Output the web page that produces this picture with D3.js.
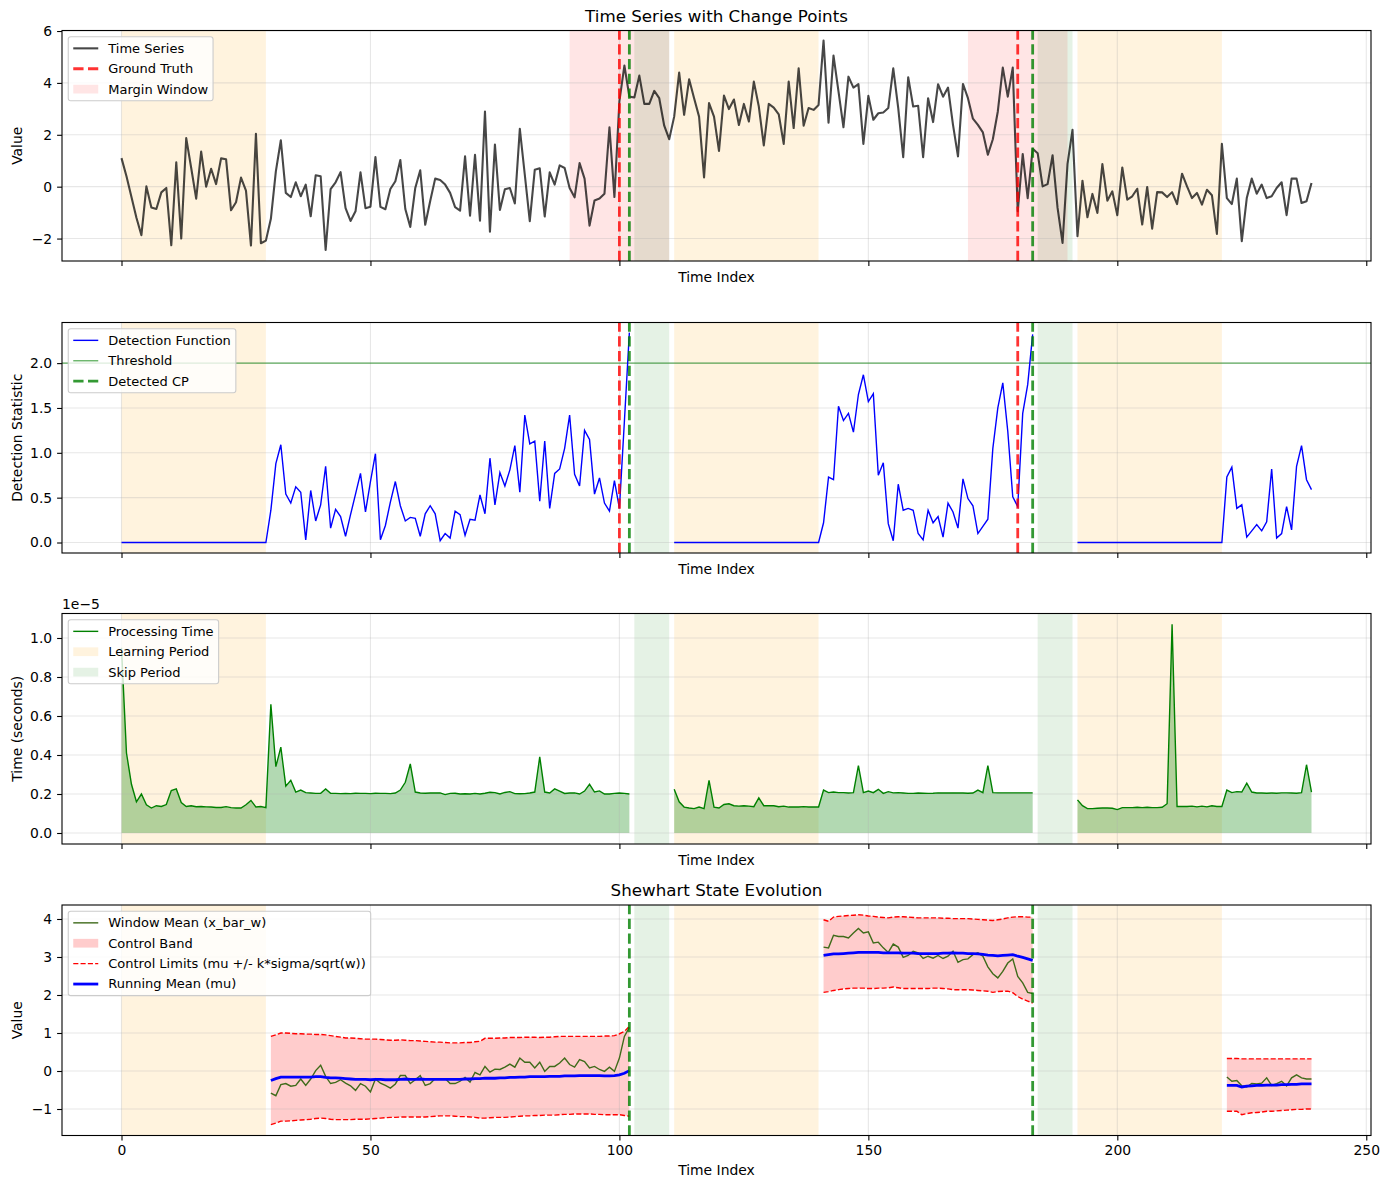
<!DOCTYPE html>
<html>
<head>
<meta charset="utf-8">
<script src="https://cdn.jsdelivr.net/npm/d3@7"></script>
<style>
  body { margin: 0; background: #fff; }
  text { font-family: "DejaVu Sans", sans-serif; }
</style>
</head>
<body>
<div id="chart"></div>
<script>
// ---- data ----
const timeSeries = [
  1.1, 0.4, -0.4, -1.2, -1.87, 0.01, -0.8, -0.86, -0.22, -0.05,
  -2.26, 0.94, -2.0, 1.87, 0.72, -0.46, 1.35, 0.0, 0.69, 0.1,
  1.09, 1.06, -0.91, -0.6, 0.35, -0.15, -2.27, 2.04, -2.18, -2.08,
  -1.24, 0.59, 1.79, -0.24, -0.4, 0.17, -0.37, 0.08, -1.14, 0.44,
  0.4, -2.44, -0.09, 0.17, 0.56, -0.83, -1.32, -0.95, 0.55, -0.83,
  -0.77, 1.14, -0.78, -0.87, -0.09, 0.21, 1.03, -0.86, -1.55, -0.05,
  0.63, -1.47, -0.55, 0.31, 0.26, 0.08, -0.24, -0.79, -0.92, 1.17,
  -1.12, 1.23, -1.31, 2.9, -1.74, 1.62, -0.9, -0.1, -0.05, -0.65,
  2.23, 0.46, -1.33, 0.65, 0.71, -1.15, 0.55, 0.08, 0.82, 0.72,
  -0.05, -0.41, 0.91, 0.31, -1.5, -0.53, -0.46, -0.27, 2.29, -0.4,
  3.3, 4.67, 3.47, 3.44, 4.28, 3.19, 3.19, 3.69, 3.41, 2.35,
  1.83, 2.7, 4.4, 2.77, 4.14, 3.41, 2.7, 0.36, 3.22, 2.7,
  1.38, 3.51, 2.99, 3.36, 2.38, 3.19, 2.51, 4.05, 3.09, 1.59,
  3.19, 3.05, 2.79, 1.65, 4.05, 2.26, 4.56, 2.35, 3.03, 2.96,
  3.15, 5.63, 2.47, 5.05, 3.67, 2.29, 4.24, 3.82, 3.95, 1.65,
  3.5, 2.58, 2.83, 2.86, 3.03, 4.56, 3.03, 1.14, 4.22, 3.09,
  3.12, 1.14, 3.41, 2.49, 3.95, 3.47, 3.82, 2.38, 1.17, 3.96,
  3.41, 2.62, 2.38, 2.09, 1.23, 1.83, 2.9, 4.59, 3.47, 4.59,
  -0.95, 1.26, -0.44, 1.46, 1.29, 0.01, 0.1, 1.21, -0.82, -2.17,
  0.88, 2.19, -1.91, 0.23, -1.18, -0.28, -1.01, 0.87, -0.54, -0.18,
  -1.1, 0.74, -0.5, -0.37, -0.08, -1.46, -0.01, -1.62, -0.21, -0.22,
  -0.4, -0.21, -0.67, 0.5, 0.01, -0.44, -0.24, -0.69, -0.12, -0.33,
  -1.82, 1.65, -0.44, -0.67, 0.31, -2.1, -0.44, 0.31, -0.27, 0.08,
  -0.44, -0.37, -0.05, 0.17, -1.1, 0.31, 0.31, -0.63, -0.56, 0.14
];

const learningSpans = [[0, 29], [111, 140], [192, 221]];
const skipSpans = [[103, 110], [184, 191]];
const marginSpans = [[90, 110], [170, 190]];
const groundTruth = [100, 180];
const detectedCP = [102, 183];
const threshold = 2.0;

// detection statistic, three runs starting at these indices
const detectStarts = [0, 111, 192];
const detectA = [
  0, 0, 0, 0, 0, 0, 0, 0, 0, 0, 0, 0, 0, 0, 0, 0, 0, 0, 0, 0, 0, 0, 0, 0, 0, 0, 0, 0, 0, 0,
  0.36, 0.88, 1.09, 0.54, 0.44, 0.62, 0.56, 0.03, 0.58, 0.24,
  0.42, 0.85, 0.16, 0.37, 0.29, 0.07, 0.31, 0.54, 0.77, 0.34,
  0.68, 0.99, 0.03, 0.19, 0.45, 0.68, 0.41, 0.24, 0.28, 0.27,
  0.07, 0.32, 0.41, 0.32, 0.02, 0.1, 0.05, 0.35, 0.31, 0.08,
  0.26, 0.25, 0.53, 0.32, 0.94, 0.42, 0.78, 0.63, 0.81, 1.08,
  0.56, 1.42, 1.1, 1.13, 0.46, 1.13, 0.38, 0.77, 0.82, 1.05,
  1.42, 0.76, 0.63, 1.25, 1.15, 0.54, 0.72, 0.44, 0.35, 0.69,
  0.38, 1.35, 2.34
];
const detectB = [
  0, 0, 0, 0, 0, 0, 0, 0, 0, 0, 0, 0, 0, 0, 0, 0, 0, 0, 0, 0, 0, 0, 0, 0, 0, 0, 0, 0, 0, 0,
  0.22, 0.73, 0.7, 1.52, 1.36, 1.44, 1.23, 1.65, 1.87, 1.57,
  1.66, 0.75, 0.89, 0.21, 0.02, 0.65, 0.36, 0.38, 0.36, 0.1,
  0.03, 0.36, 0.22, 0.29, 0.06, 0.44, 0.34, 0.16, 0.71, 0.49,
  0.41, 0.1, 0.18, 0.26, 1.05, 1.5, 1.78, 1.24, 0.51, 0.4,
  1.44, 1.76, 2.32
];
const detectC = [
  0, 0, 0, 0, 0, 0, 0, 0, 0, 0, 0, 0, 0, 0, 0, 0, 0, 0, 0, 0, 0, 0, 0, 0, 0, 0, 0, 0, 0, 0,
  0.73, 0.84, 0.38, 0.42, 0.06, 0.13, 0.2, 0.13, 0.23, 0.82,
  0.05, 0.1, 0.4, 0.14, 0.85, 1.08, 0.7, 0.59
];

// processing time in units of 1e-5 s
const procStarts = [0, 111, 192];
const procA = [
  0.95, 0.41, 0.25, 0.16, 0.2, 0.145, 0.128, 0.14, 0.136, 0.146,
  0.218, 0.226, 0.156, 0.136, 0.14, 0.135, 0.136, 0.134, 0.133, 0.131,
  0.131, 0.135, 0.13, 0.128, 0.128, 0.145, 0.167, 0.133, 0.136, 0.13,
  0.66, 0.34, 0.44, 0.24, 0.27, 0.21, 0.22, 0.207, 0.205, 0.203,
  0.204, 0.226, 0.204, 0.203, 0.202, 0.203, 0.202, 0.204, 0.203, 0.203,
  0.202, 0.204, 0.203, 0.203, 0.202, 0.205, 0.22, 0.26, 0.354, 0.21,
  0.205, 0.204, 0.205, 0.205, 0.206, 0.197, 0.203, 0.204, 0.2, 0.201,
  0.2, 0.203, 0.2, 0.204, 0.209, 0.207, 0.2, 0.208, 0.212, 0.202,
  0.201, 0.202, 0.205, 0.21, 0.39, 0.21, 0.205, 0.226, 0.215, 0.203,
  0.205, 0.206, 0.2, 0.215, 0.25, 0.21, 0.216, 0.2, 0.2, 0.203,
  0.205, 0.203, 0.2
];
const procB = [
  0.224, 0.16, 0.133, 0.128, 0.125, 0.133, 0.125, 0.27, 0.133, 0.128,
  0.146, 0.15, 0.14, 0.138, 0.14, 0.138, 0.135, 0.18, 0.14, 0.14,
  0.14, 0.135, 0.138, 0.133, 0.133, 0.133, 0.135, 0.133, 0.133, 0.133,
  0.22, 0.207, 0.21, 0.207, 0.207, 0.205, 0.207, 0.345, 0.207, 0.215,
  0.207, 0.224, 0.203, 0.212, 0.206, 0.207, 0.205, 0.203, 0.203, 0.205,
  0.204, 0.203, 0.204, 0.206, 0.205, 0.205, 0.206, 0.205, 0.205, 0.204,
  0.205, 0.22, 0.207, 0.345, 0.207, 0.206, 0.206, 0.206, 0.206, 0.206,
  0.206, 0.206, 0.206
];
const procC = [
  0.17, 0.14, 0.125, 0.125, 0.127, 0.128, 0.128, 0.127, 0.12, 0.13,
  0.13, 0.13, 0.132, 0.13, 0.132, 0.13, 0.13, 0.132, 0.15, 1.07,
  0.136, 0.136, 0.136, 0.138, 0.134, 0.138, 0.134, 0.14, 0.136, 0.136,
  0.22, 0.207, 0.212, 0.21, 0.255, 0.21, 0.205, 0.205, 0.204, 0.205,
  0.204, 0.206, 0.206, 0.205, 0.204, 0.207, 0.35, 0.21
];

// Shewhart state, three runs starting at these indices
const shewStarts = [30, 141, 222];
const meanA = [
  -0.58, -0.65, -0.36, -0.33, -0.4, -0.38, -0.21, -0.38, -0.21, 0.01,
  0.15, -0.14, -0.33, -0.3, -0.23, -0.32, -0.39, -0.51, -0.33, -0.4,
  -0.55, -0.21, -0.32, -0.38, -0.45, -0.34, -0.12, -0.12, -0.33, -0.23,
  -0.12, -0.38, -0.33, -0.2, -0.2, -0.2, -0.33, -0.33, -0.27, -0.17,
  -0.29, -0.04, -0.1, 0.12, -0.03, 0.05, 0.04, 0.1, 0.18, 0.1,
  0.34, 0.23, 0.23, 0.08, 0.23, -0.01, 0.12, 0.12, 0.21, 0.34,
  0.17, 0.1, 0.3, 0.25, 0.08, 0.12, 0.04, -0.01, 0.1, -0.01,
  0.34, 0.91, 1.15
];
const muA = [
  -0.25, -0.2, -0.16, -0.16, -0.16, -0.16, -0.16, -0.16, -0.16, -0.15,
  -0.15, -0.17, -0.18, -0.18, -0.19, -0.2, -0.21, -0.22, -0.22, -0.22,
  -0.23, -0.22, -0.22, -0.23, -0.23, -0.23, -0.22, -0.21, -0.22, -0.22,
  -0.21, -0.22, -0.22, -0.22, -0.22, -0.22, -0.22, -0.22, -0.22, -0.21,
  -0.21, -0.2, -0.2, -0.19, -0.19, -0.19, -0.18, -0.18, -0.17, -0.17,
  -0.16, -0.16, -0.15, -0.15, -0.15, -0.15, -0.14, -0.14, -0.14, -0.13,
  -0.13, -0.13, -0.12, -0.12, -0.12, -0.12, -0.12, -0.13, -0.13, -0.12,
  -0.1, -0.06, 0.01
];
const upperA = [
  0.91, 0.95, 1.0, 1.0, 0.99, 0.98, 0.98, 0.97, 0.97, 0.96,
  0.96, 0.95, 0.93, 0.91, 0.89, 0.87, 0.87, 0.86, 0.85, 0.84,
  0.84, 0.84, 0.83, 0.82, 0.81, 0.81, 0.82, 0.81, 0.8, 0.8,
  0.79, 0.78, 0.77, 0.76, 0.76, 0.75, 0.74, 0.74, 0.74, 0.75,
  0.75, 0.77, 0.78, 0.86, 0.86, 0.86, 0.87, 0.87, 0.88, 0.88,
  0.88, 0.89, 0.89, 0.89, 0.88, 0.89, 0.89, 0.9, 0.91, 0.91,
  0.91, 0.91, 0.91, 0.91, 0.91, 0.91, 0.91, 0.92, 0.92, 0.93,
  0.98, 1.04, 1.18
];
const lowerA = [
  -1.41, -1.37, -1.32, -1.32, -1.31, -1.3, -1.29, -1.28, -1.27, -1.25,
  -1.24, -1.25, -1.27, -1.28, -1.28, -1.28, -1.28, -1.27, -1.27, -1.27,
  -1.26, -1.25, -1.24, -1.23, -1.22, -1.22, -1.21, -1.21, -1.21, -1.21,
  -1.21, -1.21, -1.2, -1.19, -1.18, -1.18, -1.18, -1.19, -1.2, -1.2,
  -1.21, -1.22, -1.24, -1.24, -1.23, -1.22, -1.22, -1.22, -1.21, -1.2,
  -1.19, -1.18, -1.18, -1.17, -1.17, -1.16, -1.16, -1.16, -1.15, -1.14,
  -1.14, -1.13, -1.13, -1.13, -1.13, -1.14, -1.14, -1.15, -1.15, -1.15,
  -1.15, -1.17, -1.19
];
const meanB = [
  3.26, 3.24, 3.57, 3.54, 3.54, 3.5, 3.63, 3.75, 3.63, 3.66,
  3.37, 3.39, 3.24, 3.12, 3.34, 3.26, 2.99, 3.04, 3.15, 3.11,
  2.96, 3.02, 2.97, 3.04, 2.96, 3.02, 3.15, 2.86, 2.93, 2.95,
  3.06, 3.11, 3.02, 2.74, 2.56, 2.45, 2.62, 2.84, 2.95, 2.49,
  2.32, 2.07, 2.04
];
const muB = [
  3.04, 3.06, 3.08, 3.08, 3.09, 3.1, 3.11, 3.12, 3.12, 3.12,
  3.12, 3.12, 3.11, 3.11, 3.11, 3.11, 3.1, 3.1, 3.1, 3.09,
  3.09, 3.09, 3.09, 3.09, 3.1, 3.1, 3.11, 3.1, 3.1, 3.09,
  3.09, 3.08, 3.07, 3.05, 3.04, 3.03, 3.04, 3.05, 3.06, 3.02,
  2.99, 2.95, 2.91
];
const upperB = [
  3.98, 3.94, 4.05, 4.07, 4.08, 4.09, 4.1, 4.11, 4.1, 4.08,
  4.07, 4.05, 4.04, 4.03, 4.05, 4.06, 4.06, 4.05, 4.04, 4.03,
  4.03, 4.03, 4.03, 4.03, 4.02, 4.02, 4.01, 4.01, 4.01, 4.01,
  4.0, 3.99, 3.98, 3.97, 3.96, 3.98, 4.0, 4.03, 4.05, 4.06,
  4.06, 4.05, 4.05
];
const lowerB = [
  2.07, 2.09, 2.12, 2.14, 2.16, 2.17, 2.18, 2.18, 2.18, 2.17,
  2.17, 2.18, 2.18, 2.19, 2.21, 2.19, 2.17, 2.17, 2.17, 2.17,
  2.17, 2.17, 2.18, 2.18, 2.17, 2.16, 2.14, 2.14, 2.14, 2.14,
  2.13, 2.12, 2.11, 2.1, 2.07, 2.09, 2.1, 2.1, 2.06, 1.96,
  1.89, 1.84, 1.79
];
const meanC = [
  -0.16, -0.27, -0.25, -0.39, -0.42, -0.33, -0.34, -0.32, -0.18, -0.38,
  -0.33, -0.27, -0.39, -0.18, -0.1, -0.18, -0.21, -0.21
];
const muC = [
  -0.38, -0.38, -0.38, -0.42, -0.4, -0.39, -0.38, -0.38, -0.37, -0.37,
  -0.37, -0.36, -0.36, -0.35, -0.35, -0.34, -0.34, -0.34
];
const upperC = [
  0.33, 0.33, 0.33, 0.32, 0.32, 0.32, 0.32, 0.32, 0.32, 0.32,
  0.32, 0.32, 0.32, 0.32, 0.32, 0.32, 0.32, 0.32
];
const lowerC = [
  -1.06, -1.06, -1.06, -1.15, -1.12, -1.1, -1.09, -1.08, -1.06, -1.06,
  -1.05, -1.04, -1.03, -1.02, -1.01, -1.01, -1.0, -1.0
];

const xTicks = [0, 50, 100, 150, 200, 250];

// ---- layout ----
const width = 1389, height = 1189;
const left = 62, right = 1371;
const panelTops = [30.5, 322.5, 613.5, 905];
const panelH = 230.5;

const svg = d3.select("#chart").append("svg")
  .attr("width", width)
  .attr("height", height);

const x = d3.scaleLinear().domain([-11.95, 250.95]).range([left, right]);

const runs = (starts, arrays) => arrays.map((a, k) => a.map((v, j) => ({ i: starts[k] + j, v })));

function panel(idx, yDomain, yTicks, fmt) {
  const top = panelTops[idx], bottom = top + panelH;
  const y = d3.scaleLinear().domain(yDomain).range([bottom, top]);
  const g = svg.append("g");
  svg.append("clipPath").attr("id", "clip" + idx)
    .append("rect").attr("x", left).attr("y", top).attr("width", right - left).attr("height", panelH);
  const body = g.append("g").attr("clip-path", `url(#clip${idx})`);
  return { g, body, y, top, bottom, yTicks, fmt };
}

function spans(p, list, color, opacity) {
  p.body.append("g").selectAll("rect").data(list).join("rect")
    .attr("x", d => x(d[0]))
    .attr("width", d => x(d[1]) - x(d[0]))
    .attr("y", p.top).attr("height", panelH)
    .attr("fill", color).attr("fill-opacity", opacity);
}

function grid(p) {
  const gg = p.body.append("g").attr("stroke", "#b0b0b0").attr("stroke-opacity", 0.3).attr("stroke-width", 1.1);
  gg.selectAll(".gx").data(xTicks).join("line")
    .attr("x1", d => x(d)).attr("x2", d => x(d)).attr("y1", p.top).attr("y2", p.bottom);
  gg.selectAll(".gy").data(p.yTicks).join("line")
    .attr("x1", left).attr("x2", right).attr("y1", d => p.y(d)).attr("y2", d => p.y(d));
}

function vlines(p, list, color, opacity) {
  p.body.append("g").selectAll("line").data(list).join("line")
    .attr("x1", d => x(d)).attr("x2", d => x(d))
    .attr("y1", p.bottom).attr("y2", p.top)
    .attr("stroke", color).attr("stroke-opacity", opacity)
    .attr("stroke-width", 2.8).attr("stroke-dasharray", "10.3,4.45");
}

function axes(p, showXLabels, ylabel) {
  const ax = d3.axisLeft(p.y).tickValues(p.yTicks).tickFormat(p.fmt).tickSize(4.9).tickPadding(4.9);
  const ga = p.g.append("g").attr("transform", `translate(${left},0)`).call(ax);
  ga.select(".domain").remove();
  ga.selectAll("text").style("font-size", "13.9px").style("font-family", "DejaVu Sans").attr("fill", "#000");
  ga.selectAll("line").attr("stroke-width", 1.1);

  const bx = d3.axisBottom(x).tickValues(xTicks).tickSize(4.9).tickPadding(4.9)
    .tickFormat(showXLabels ? d3.format("d") : "");
  const gb = p.g.append("g").attr("transform", `translate(0,${p.bottom})`).call(bx);
  gb.select(".domain").remove();
  gb.selectAll("text").style("font-size", "13.9px").style("font-family", "DejaVu Sans").attr("fill", "#000");
  gb.selectAll("line").attr("stroke-width", 1.1);

  p.g.append("rect")
    .attr("x", left).attr("y", p.top).attr("width", right - left).attr("height", panelH)
    .attr("fill", "none").attr("stroke", "#000").attr("stroke-width", 1.1);

  p.g.append("text")
    .attr("x", (left + right) / 2)
    .attr("y", showXLabels ? p.bottom + 39.5 : p.bottom + 20.5)
    .attr("text-anchor", "middle").style("font-size", "13.9px")
    .text("Time Index");

  p.g.append("text")
    .attr("transform", `translate(21.5,${p.top + panelH / 2}) rotate(-90)`)
    .attr("text-anchor", "middle").style("font-size", "13.9px")
    .text(ylabel);
}

function legend(p, items) {
  const rowH = 20.4;
  const lg = p.g.append("g").attr("transform", `translate(${left + 6.25},${p.top + 6.25})`);
  const box = lg.append("rect").attr("rx", 2.5).attr("ry", 2.5)
    .attr("fill", "#fff").attr("fill-opacity", 0.8)
    .attr("stroke", "#cccccc").attr("stroke-width", 1.1);
  let maxW = 0;
  items.forEach((it, k) => {
    const cy = 11.6 + k * rowH;
    if (it.patch) {
      lg.append("rect").attr("x", 5).attr("y", cy - 4.4).attr("width", 25).attr("height", 8.75)
        .attr("fill", it.color).attr("fill-opacity", it.opacity);
    } else {
      lg.append("line").attr("x1", 5).attr("x2", 30).attr("y1", cy).attr("y2", cy)
        .attr("stroke", it.color).attr("stroke-opacity", it.opacity || 1)
        .attr("stroke-width", it.w).attr("stroke-dasharray", it.dash || null);
    }
    const t = lg.append("text").attr("x", 40).attr("y", cy).attr("dy", "0.34em")
      .style("font-size", "13px").attr("fill", "#000").text(it.label);
    maxW = Math.max(maxW, t.node().getComputedTextLength());
  });
  box.attr("width", 40 + maxW + 5).attr("height", 23.2 + (items.length - 1) * rowH);
}

// ---- panel 1: time series ----
const p1 = panel(0, [-2.865, 6.02], [-2, 0, 2, 4, 6], d3.format("d"));
spans(p1, learningSpans, "#ffa500", 0.13);
spans(p1, marginSpans, "#ff0000", 0.1);
spans(p1, skipSpans, "#008000", 0.1);
grid(p1);
p1.body.append("path")
  .datum(timeSeries)
  .attr("fill", "none").attr("stroke", "#000").attr("stroke-opacity", 0.72).attr("stroke-width", 2.1)
  .attr("stroke-linejoin", "round")
  .attr("d", d3.line().x((d, i) => x(i)).y(d => p1.y(d)));
vlines(p1, groundTruth, "#ff0000", 0.8);
vlines(p1, detectedCP, "#008000", 0.8);
axes(p1, false, "Value");
legend(p1, [
  { label: "Time Series", color: "#000", opacity: 0.72, w: 2.1 },
  { label: "Ground Truth", color: "#ff0000", opacity: 0.8, w: 2.8, dash: "10.3,4.45" },
  { label: "Margin Window", patch: true, color: "#ff0000", opacity: 0.1 }
]);
svg.append("text").attr("x", (left + right) / 2).attr("y", 21.5)
  .attr("text-anchor", "middle").style("font-size", "16.7px").text("Time Series with Change Points");

// ---- panel 2: detection statistic ----
const p2 = panel(1, [-0.117, 2.453], [0, 0.5, 1, 1.5, 2], d3.format(".1f"));
spans(p2, learningSpans, "#ffa500", 0.13);
spans(p2, skipSpans, "#008000", 0.1);
grid(p2);
p2.body.append("line")
  .attr("x1", left).attr("x2", right).attr("y1", p2.y(threshold)).attr("y2", p2.y(threshold))
  .attr("stroke", "#008000").attr("stroke-opacity", 0.6).attr("stroke-width", 1.4);
p2.body.append("g").selectAll("path")
  .data(runs(detectStarts, [detectA, detectB, detectC]))
  .join("path")
  .attr("fill", "none").attr("stroke", "#0000ff").attr("stroke-width", 1.4)
  .attr("d", d3.line().x(d => x(d.i)).y(d => p2.y(d.v)));
vlines(p2, groundTruth, "#ff0000", 0.8);
vlines(p2, detectedCP, "#008000", 0.8);
axes(p2, false, "Detection Statistic");
legend(p2, [
  { label: "Detection Function", color: "#0000ff", w: 1.4 },
  { label: "Threshold", color: "#008000", opacity: 0.6, w: 1.4 },
  { label: "Detected CP", color: "#008000", opacity: 0.8, w: 2.8, dash: "10.3,4.45" }
]);

// ---- panel 3: processing time ----
const p3 = panel(2, [-0.0564, 1.1256], [0, 0.2, 0.4, 0.6, 0.8, 1.0], d3.format(".1f"));
spans(p3, learningSpans, "#ffa500", 0.13);
spans(p3, skipSpans, "#008000", 0.1);
const procRuns = runs(procStarts, [procA, procB, procC]);
p3.body.append("g").selectAll("path")
  .data(procRuns).join("path")
  .attr("fill", "#008000").attr("fill-opacity", 0.3)
  .attr("d", d3.area().x(d => x(d.i)).y0(p3.y(0)).y1(d => p3.y(d.v)));
grid(p3);
p3.body.append("g").selectAll("path")
  .data(procRuns).join("path")
  .attr("fill", "none").attr("stroke", "#008000").attr("stroke-width", 1.4)
  .attr("d", d3.line().x(d => x(d.i)).y(d => p3.y(d.v)));
axes(p3, false, "Time (seconds)");
legend(p3, [
  { label: "Processing Time", color: "#008000", w: 1.4 },
  { label: "Learning Period", patch: true, color: "#ffa500", opacity: 0.13 },
  { label: "Skip Period", patch: true, color: "#008000", opacity: 0.1 }
]);
p3.g.append("text").attr("x", left).attr("y", p3.top - 5)
  .style("font-size", "13.9px").text("1e\u22125");

// ---- panel 4: Shewhart state ----
const p4 = panel(3, [-1.697, 4.368], [-1, 0, 1, 2, 3, 4], d3.format("d"));
spans(p4, learningSpans, "#ffa500", 0.13);
spans(p4, skipSpans, "#008000", 0.1);
const bandRuns = [[upperA, lowerA], [upperB, lowerB], [upperC, lowerC]]
  .map((pair, k) => pair[0].map((u, j) => ({ i: shewStarts[k] + j, hi: u, lo: pair[1][j] })));
p4.body.append("g").selectAll("path")
  .data(bandRuns).join("path")
  .attr("fill", "#ff0000").attr("fill-opacity", 0.2)
  .attr("d", d3.area().x(d => x(d.i)).y0(d => p4.y(d.lo)).y1(d => p4.y(d.hi)));
grid(p4);
const limitLine = key => d3.line().x(d => x(d.i)).y(d => p4.y(d[key]));
["hi", "lo"].forEach(key => {
  p4.body.append("g").selectAll("path")
    .data(bandRuns).join("path")
    .attr("fill", "none").attr("stroke", "#ff0000").attr("stroke-width", 1.4)
    .attr("stroke-dasharray", "5.1,2.2")
    .attr("d", limitLine(key));
});
p4.body.append("g").selectAll("path")
  .data(runs(shewStarts, [meanA, meanB, meanC])).join("path")
  .attr("fill", "none").attr("stroke", "#3f6b1a").attr("stroke-width", 1.4)
  .attr("d", d3.line().x(d => x(d.i)).y(d => p4.y(d.v)));
p4.body.append("g").selectAll("path")
  .data(runs(shewStarts, [muA, muB, muC])).join("path")
  .attr("fill", "none").attr("stroke", "#0000ff").attr("stroke-width", 2.8)
  .attr("d", d3.line().x(d => x(d.i)).y(d => p4.y(d.v)));
vlines(p4, detectedCP, "#008000", 0.8);
axes(p4, true, "Value");
legend(p4, [
  { label: "Window Mean (x_bar_w)", color: "#3f6b1a", w: 1.4 },
  { label: "Control Band", patch: true, color: "#ff0000", opacity: 0.2 },
  { label: "Control Limits (mu +/- k*sigma/sqrt(w))", color: "#ff0000", w: 1.4, dash: "5.1,2.2" },
  { label: "Running Mean (mu)", color: "#0000ff", w: 2.8 }
]);
svg.append("text").attr("x", (left + right) / 2).attr("y", p4.top - 9.5)
  .attr("text-anchor", "middle").style("font-size", "16.7px").text("Shewhart State Evolution");
</script>
</body>
</html>
